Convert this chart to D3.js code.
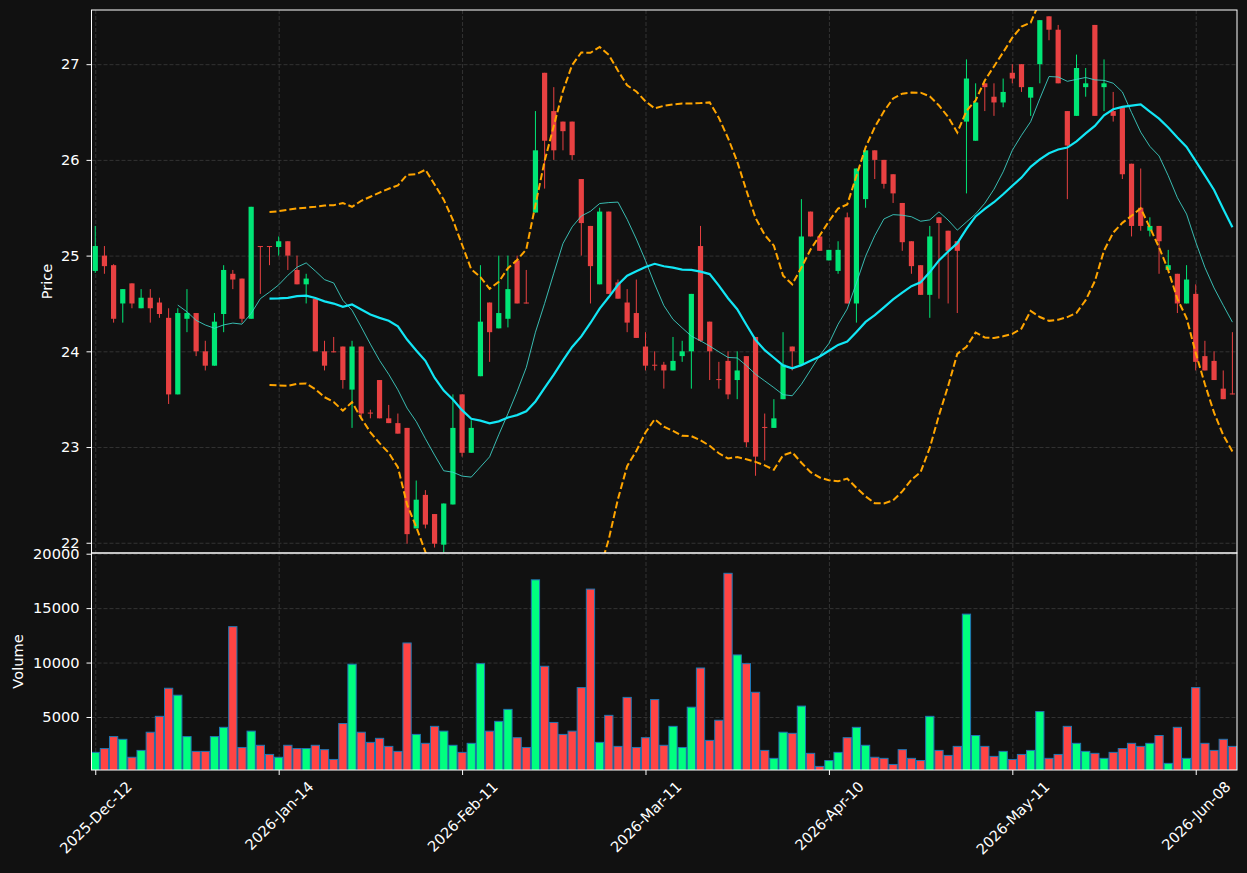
<!DOCTYPE html>
<html>
<head>
<title>Candlestick with volume</title>
<style>
  body { margin: 0; background: #111111; }
  svg text { font-family: "DejaVu Sans", sans-serif; fill: #ffffff; font-size: 14.6px; }
  .grid line { stroke: #3c3c3c; stroke-width: 0.8; stroke-dasharray: 4,2; }
  .grid path { display: none; }
</style>
</head>
<body>
<script src="https://cdnjs.cloudflare.com/ajax/libs/d3/7.8.5/d3.min.js"></script>
<script>
// x tick positions (bar index) and their labels
var tickIndex = [0, 20, 40, 60, 80, 100, 120];
var tickLabels = ["2025-Dec-12", "2026-Jan-14", "2026-Feb-11", "2026-Mar-11", "2026-Apr-10", "2026-May-11", "2026-Jun-08"];

var open = [24.84, 25.00, 24.90, 24.50, 24.71, 24.45, 24.56, 24.51, 24.35, 23.55,
  24.34, 24.40, 24.00, 23.85, 24.39, 24.81, 24.76, 24.34, 25.10, 25.10,
  25.09, 25.15, 24.85, 24.70, 24.55, 24.00, 24.00, 24.05, 23.60, 24.05,
  23.36, 23.70, 23.30, 23.25, 23.20, 22.15, 22.50, 22.30, 21.98, 22.40,
  23.55, 22.94, 23.74, 24.51, 24.24, 24.34, 24.95, 24.51, 25.45, 26.91,
  26.51, 26.40, 26.40, 25.80, 25.31, 24.70, 25.46, 24.72, 24.51, 24.40,
  24.05, 23.86, 23.86, 23.80, 23.95, 24.00, 25.10, 24.31, 23.71, 23.90,
  23.70, 23.95, 24.15, 23.21, 23.20, 23.50, 24.05, 23.86, 25.46, 25.20,
  24.95, 24.84, 25.40, 24.50, 25.59, 26.10, 26.00, 25.85, 25.55, 25.15,
  24.90, 24.59, 25.40, 25.26, 25.15, 26.40, 26.20, 26.80, 26.66, 26.60,
  26.91, 27.00, 26.65, 27.00, 27.50, 27.36, 26.51, 26.46, 26.76, 27.41,
  26.76, 26.51, 26.55, 25.96, 25.50, 25.26, 25.31, 24.85, 24.81, 24.50,
  24.60, 23.95, 23.90, 23.61, 23.56];

var high = [25.31, 25.10, 24.91, 24.65, 24.71, 24.65, 24.65, 24.56, 24.45, 24.45,
  24.65, 24.40, 24.11, 24.40, 24.90, 24.85, 24.76, 25.51, 25.10, 25.10,
  25.20, 25.15, 25.00, 24.81, 24.55, 24.11, 24.15, 24.05, 24.11, 24.05,
  23.39, 23.70, 23.44, 23.35, 23.20, 22.65, 22.55, 22.30, 22.41, 23.55,
  23.55, 23.28, 24.90, 24.51, 25.00, 25.00, 25.00, 24.85, 26.51, 26.91,
  26.76, 26.40, 26.40, 25.80, 25.31, 25.50, 25.46, 24.75, 24.65, 24.75,
  24.20, 24.00, 23.89, 24.15, 24.11, 24.60, 25.31, 24.31, 23.89, 24.00,
  24.00, 23.95, 24.15, 23.35, 23.50, 24.20, 24.05, 25.59, 25.46, 25.20,
  25.06, 25.15, 25.45, 25.91, 26.10, 26.10, 26.00, 25.85, 25.55, 25.15,
  24.90, 25.31, 25.40, 25.26, 25.15, 27.05, 26.80, 26.80, 26.80, 26.85,
  27.00, 27.00, 26.76, 27.46, 27.50, 27.41, 26.51, 27.10, 26.96, 27.41,
  27.05, 26.71, 26.55, 25.96, 25.91, 25.40, 25.31, 25.06, 24.81, 24.90,
  24.70, 24.11, 24.00, 23.80, 24.20];

var low = [24.82, 24.81, 24.30, 24.30, 24.45, 24.45, 24.30, 24.35, 23.45, 23.55,
  24.20, 23.95, 23.80, 23.85, 24.20, 24.65, 24.30, 24.34, 24.60, 24.90,
  25.00, 24.85, 24.70, 24.50, 24.00, 23.80, 23.99, 23.61, 23.20, 23.30,
  23.30, 23.30, 23.25, 23.14, 21.99, 22.15, 22.15, 21.95, 21.90, 22.40,
  22.90, 22.94, 23.74, 23.89, 24.24, 24.25, 24.50, 24.50, 25.45, 25.70,
  26.00, 26.10, 26.00, 25.00, 24.50, 24.70, 24.60, 24.55, 24.20, 24.14,
  23.80, 23.80, 23.61, 23.80, 23.89, 23.61, 24.10, 23.70, 23.61, 23.50,
  23.50, 23.00, 22.70, 22.86, 23.20, 23.50, 23.80, 23.86, 25.20, 25.05,
  24.95, 24.81, 24.50, 24.30, 25.50, 25.80, 25.70, 25.55, 25.05, 24.81,
  24.59, 24.35, 24.55, 24.50, 24.40, 25.65, 26.20, 26.51, 26.46, 26.55,
  26.80, 26.71, 26.46, 26.80, 27.25, 26.80, 25.59, 26.46, 26.66, 26.46,
  26.51, 26.40, 25.80, 25.20, 25.26, 25.20, 24.81, 24.85, 24.40, 24.50,
  23.80, 23.80, 23.70, 23.50, 23.55];

var close = [25.10, 24.89, 24.34, 24.65, 24.50, 24.56, 24.45, 24.39, 23.55, 24.40,
  24.40, 24.00, 23.85, 24.31, 24.85, 24.75, 24.34, 25.51, 25.09, 25.09,
  25.15, 25.00, 24.70, 24.76, 24.00, 23.85, 23.99, 23.70, 24.05, 23.35,
  23.35, 23.30, 23.25, 23.14, 22.09, 22.45, 22.19, 21.99, 22.41, 23.20,
  22.94, 23.20, 24.31, 24.20, 24.40, 24.65, 24.50, 24.50, 26.10, 26.20,
  26.10, 26.30, 26.05, 25.34, 24.89, 25.46, 24.60, 24.55, 24.30, 24.14,
  23.85, 23.85, 23.80, 23.90, 24.00, 24.60, 24.11, 24.00, 23.70, 23.55,
  23.80, 23.05, 22.90, 23.20, 23.30, 23.86, 24.00, 25.20, 25.20, 25.05,
  25.06, 25.06, 24.50, 25.91, 26.10, 26.00, 25.75, 25.65, 25.14, 24.89,
  24.59, 25.20, 25.34, 25.05, 25.05, 26.85, 26.60, 26.76, 26.60, 26.71,
  26.85, 26.76, 26.76, 27.46, 27.36, 26.80, 26.15, 26.96, 26.80, 26.46,
  26.80, 26.46, 25.85, 25.31, 25.31, 25.31, 25.15, 24.90, 24.50, 24.75,
  23.89, 23.80, 23.70, 23.50, 23.55];

var volume = [1750, 2100, 3200, 2950, 1300, 1930, 3600, 5060, 7640, 7000,
  3200, 1840, 1840, 3200, 4050, 13300, 2200, 3700, 2400, 1560,
  1300, 2400, 2100, 2100, 2400, 2000, 1100, 4400, 9850, 3600,
  2670, 3040, 2300, 1840, 11800, 3400, 2580, 4140, 3700, 2400,
  1750, 2580, 9900, 3700, 4600, 5700, 3100, 2200, 17600, 9660,
  4500, 3400, 3700, 7700, 16750, 2670, 5150, 2300, 6800, 2200,
  3100, 6600, 2400, 4140, 2200, 5900, 9500, 2850, 4700, 18200,
  10700, 9900, 7270, 1930, 1200, 3600, 3500, 6000, 1660, 460,
  1000, 1750, 3100, 4050, 2400, 1300, 1200, 640, 2000, 1200,
  1000, 5060, 1930, 1470, 2300, 14450, 3300, 2300, 1380, 1840,
  1100, 1560, 1930, 5500, 1200, 1560, 4140, 2580, 1840, 1660,
  1200, 1750, 2100, 2580, 2300, 2580, 3300, 740, 4050, 1200,
  7700, 2580, 1930, 2950, 2300];

var width = 1247,
    height = 873,
    left = 91.5,
    right = 1237,
    priceTop = 10,
    priceBottom = 553,
    volBottom = 770;

var upColor = "#00e676", downColor = "#e84142";
var volUp = "#00ff7f", volDown = "#ff4444";

var bars = open.map(function(o, i) {
  return { i: i, o: o, h: high[i], l: low[i], c: close[i], v: volume[i] };
});

// indicators derived from the closes
function rolling(arr, n, fn) {
  return arr.map(function(d, i) {
    return i < n - 1 ? null : fn(arr.slice(i - n + 1, i + 1));
  });
}
var ma10 = rolling(close, 10, d3.mean);
var ma20 = rolling(close, 20, d3.mean);
var sd20 = rolling(close, 20, function(w) {
  var m = d3.mean(w);
  return Math.sqrt(d3.mean(w, function(v) { return (v - m) * (v - m); }));
});
var upper = ma20.map(function(m, i) { return m == null ? null : m + 2 * sd20[i]; });
var lower = ma20.map(function(m, i) { return m == null ? null : m - 2 * sd20[i]; });

var x = d3.scaleLinear().domain([-0.41, 124.5]).range([left, right]);
var y = d3.scaleLinear().domain([21.893, 27.566]).range([priceBottom, priceTop]);
var yv = d3.scaleLinear().domain([130, 20065]).range([volBottom, priceBottom]);
var step = x(1) - x(0);

var svg = d3.select("body").append("svg")
  .attr("width", width)
  .attr("height", height)
  .style("display", "block");

svg.append("rect").attr("width", width).attr("height", height).attr("fill", "#111111");

var defs = svg.append("defs");
defs.append("clipPath").attr("id", "clipPrice").append("rect")
  .attr("x", left).attr("y", priceTop).attr("width", right - left).attr("height", priceBottom - priceTop);
defs.append("clipPath").attr("id", "clipVol").append("rect")
  .attr("x", left).attr("y", priceBottom).attr("width", right - left).attr("height", volBottom - priceBottom);

// grids
svg.append("g").attr("class", "grid")
  .attr("transform", "translate(" + left + ",0)")
  .call(d3.axisLeft(y).ticks(6).tickSize(-(right - left)).tickFormat(""));
svg.append("g").attr("class", "grid")
  .attr("transform", "translate(" + left + ",0)")
  .call(d3.axisLeft(yv).ticks(4).tickSize(-(right - left)).tickFormat(""));
svg.append("g").attr("class", "grid")
  .attr("transform", "translate(0," + volBottom + ")")
  .call(d3.axisBottom(x).tickValues(tickIndex).tickSize(-(volBottom - priceTop)).tickFormat(""));

// candles
var pricePlot = svg.append("g").attr("clip-path", "url(#clipPrice)");
var candle = pricePlot.selectAll(".candle")
  .data(bars)
  .enter().append("g")
  .attr("class", "candle");

candle.append("line")
  .attr("x1", function(d) { return x(d.i); })
  .attr("x2", function(d) { return x(d.i); })
  .attr("y1", function(d) { return y(d.h); })
  .attr("y2", function(d) { return y(d.l); })
  .attr("stroke", function(d) { return d.c >= d.o ? upColor : downColor; })
  .attr("stroke-width", 1);

candle.append("rect")
  .attr("x", function(d) { return x(d.i) - 2.6; })
  .attr("width", 5.2)
  .attr("y", function(d) { return y(Math.max(d.o, d.c)); })
  .attr("height", function(d) { return Math.max(1, Math.abs(y(d.o) - y(d.c))); })
  .attr("fill", function(d) { return d.c >= d.o ? upColor : downColor; });

// overlays
function lineOf(arr) {
  return d3.line()
    .defined(function(d) { return d != null; })
    .x(function(d, i) { return x(i); })
    .y(function(d) { return y(d); })(arr);
}

pricePlot.append("path").attr("d", lineOf(upper))
  .attr("fill", "none").attr("stroke", "#ffa500").attr("stroke-width", 2).attr("stroke-dasharray", "7,3");
pricePlot.append("path").attr("d", lineOf(lower))
  .attr("fill", "none").attr("stroke", "#ffa500").attr("stroke-width", 2).attr("stroke-dasharray", "7,3");
pricePlot.append("path").attr("d", lineOf(ma10))
  .attr("fill", "none").attr("stroke", "#40d8cc").attr("stroke-width", 1).attr("opacity", 0.85);
pricePlot.append("path").attr("d", lineOf(ma20))
  .attr("fill", "none").attr("stroke", "#12e6f5").attr("stroke-width", 2.2);

// volume bars
var volPlot = svg.append("g").attr("clip-path", "url(#clipVol)");
volPlot.selectAll(".vol")
  .data(bars)
  .enter().append("rect")
  .attr("class", "vol")
  .attr("x", function(d) { return x(d.i) - step * 0.45; })
  .attr("width", step * 0.9)
  .attr("y", function(d) { return yv(d.v); })
  .attr("height", function(d) { return yv(0) - yv(d.v); })
  .attr("fill", function(d) { return d.c >= d.o ? volUp : volDown; })
  .attr("stroke", "#1f77b4")
  .attr("stroke-width", 1);

// axes
var priceAxis = svg.append("g")
  .attr("transform", "translate(" + left + ",0)")
  .call(d3.axisLeft(y).ticks(6).tickSize(5).tickPadding(7).tickFormat(d3.format("d")));
var volAxis = svg.append("g")
  .attr("transform", "translate(" + left + ",0)")
  .call(d3.axisLeft(yv).ticks(4).tickSize(5).tickPadding(7).tickFormat(d3.format("d")));
var dateAxis = svg.append("g")
  .attr("transform", "translate(0," + volBottom + ")")
  .call(d3.axisBottom(x).tickValues(tickIndex).tickSize(5)
    .tickFormat(function(d, i) { return tickLabels[i]; }));

[priceAxis, volAxis, dateAxis].forEach(function(a) {
  a.attr("font-size", null).attr("font-family", null);
  a.select(".domain").remove();
  a.selectAll("line").attr("stroke", "#ffffff");
  a.selectAll("text").attr("fill", "#ffffff");
});

dateAxis.selectAll("text").each(function() {
  var t = d3.select(this);
  var w = this.getComputedTextLength();
  var box = (w + 14) * Math.SQRT1_2;
  t.attr("y", 0).attr("dy", "0.35em")
    .attr("text-anchor", "middle")
    .attr("transform", "translate(0," + (9 + box / 2) + ") rotate(-45)");
});

// frames
svg.append("rect")
  .attr("x", left).attr("y", priceTop)
  .attr("width", right - left).attr("height", priceBottom - priceTop)
  .attr("fill", "none").attr("stroke", "#ffffff").attr("stroke-width", 1);
svg.append("rect")
  .attr("x", left).attr("y", priceBottom)
  .attr("width", right - left).attr("height", volBottom - priceBottom)
  .attr("fill", "none").attr("stroke", "#ffffff").attr("stroke-width", 1);

// axis titles
svg.append("text")
  .attr("transform", "translate(52," + (priceTop + priceBottom) / 2 + ") rotate(-90)")
  .attr("text-anchor", "middle")
  .text("Price");
svg.append("text")
  .attr("transform", "translate(23," + (priceBottom + volBottom) / 2 + ") rotate(-90)")
  .attr("text-anchor", "middle")
  .text("Volume");
</script>
</body>
</html>
